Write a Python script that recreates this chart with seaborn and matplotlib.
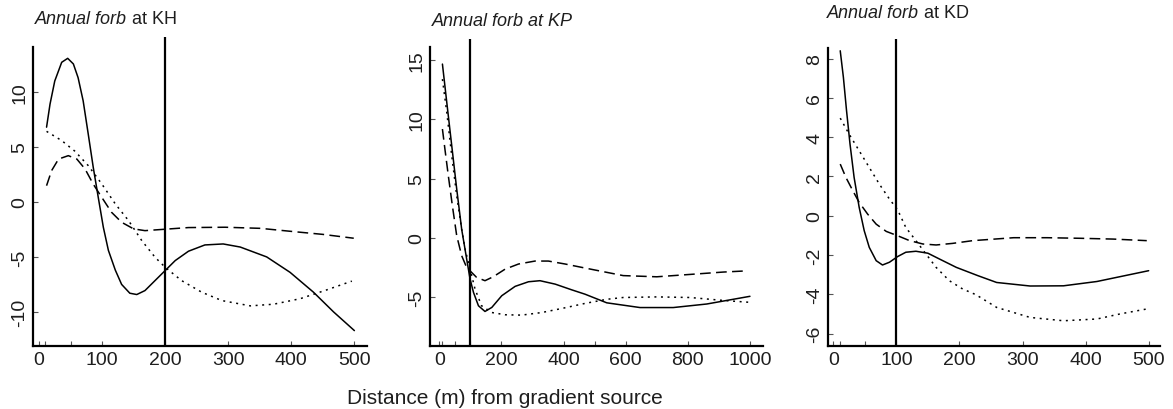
import pandas as pd
import matplotlib
matplotlib.use("Agg")
import matplotlib.pyplot as plt
import seaborn as sns

# ==========================================
# 1. Data
# ==========================================
# Annual forb at KH
KH_SOLID_X = [12, 17.5, 25, 36, 45.5, 54.5, 62, 70, 78, 86, 94, 102, 110, 121, 131, 144, 155, 168, 184, 200,
              216, 237, 263, 292, 319, 361, 398, 435, 467, 500]
KH_SOLID_Y = [6.8, 8.9, 11.0, 12.7, 13.06, 12.55, 11.3, 9.2, 6.2, 3.15, 0.4, -2.3, -4.4, -6.2, -7.5, -8.3, -8.42, -8.06, -7.15, -6.24,
              -5.33, -4.48, -3.91, -3.82, -4.1, -5.0, -6.4, -8.2, -10.0, -11.7]
KH_DASHED_X = [12, 20, 31, 46.5, 60, 73, 86, 99.5, 115, 131, 150, 168, 200, 237, 295, 351, 404, 450, 499]
KH_DASHED_Y = [1.48, 2.85, 3.9, 4.21, 3.9, 3.0, 1.62, 0.42, -0.94, -1.85, -2.45, -2.61, -2.48, -2.33, -2.3, -2.4, -2.7, -2.95, -3.3]
KH_DOTTED_X = [12, 36, 57, 78, 99.5, 121, 142, 163, 184, 200, 226, 258, 290, 335, 372, 414, 456, 496]
KH_DOTTED_Y = [6.42, 5.58, 4.61, 3.31, 1.64, -0.18, -1.7, -3.52, -5.03, -5.94, -7.15, -8.21, -8.97, -9.45, -9.3, -8.8, -8.0, -7.2]

# Annual forb at KP
KP_SOLID_X = [10, 24, 40, 56, 72, 88, 99, 110, 126, 147, 169, 201, 244, 287, 324, 373, 426, 469, 539, 646, 753, 861, 1000]
KP_SOLID_Y = [14.68, 11.44, 7.78, 4.12, 0.71, -1.79, -3.49, -4.62, -5.75, -6.23, -5.89, -4.9, -4.11, -3.72, -3.63, -3.92, -4.4, -4.77,
              -5.5, -5.9, -5.9, -5.6, -4.95]
KP_DASHED_X = [10, 18, 29, 42, 56, 72, 88, 104, 120, 147, 174, 212, 255, 308, 351, 405, 469, 592, 700, 807, 914, 989]
KP_DASHED_Y = [9.19, 7.5, 5.24, 2.71, 0.17, -1.52, -2.51, -2.93, -3.35, -3.63, -3.29, -2.65, -2.22, -1.97, -1.97, -2.22, -2.56,
               -3.2, -3.3, -3.1, -2.9, -2.8]
KP_DOTTED_X = [10, 24, 40, 56, 72, 83, 99, 115, 136, 169, 212, 265, 330, 394, 469, 540, 592, 700, 807, 914, 995]
KP_DOTTED_Y = [13.41, 10.6, 6.94, 3.56, 0.71, -0.96, -2.65, -4.34, -5.75, -6.32, -6.51, -6.54, -6.32, -5.98, -5.55, -5.2,
               -5.05, -5.0, -5.05, -5.3, -5.45]

# Annual forb at KD
KD_SOLID_X = [11, 16, 21, 26.5, 33, 41, 49, 57, 68, 78, 89, 102, 115, 131, 150, 168, 195, 229, 259, 312, 365, 418, 500]
KD_SOLID_Y = [8.4, 7.05, 5.35, 3.65, 1.95, 0.43, -0.76, -1.61, -2.29, -2.51, -2.37, -2.08, -1.86, -1.81, -1.91, -2.2, -2.63,
              -3.05, -3.4, -3.58, -3.57, -3.35, -2.8]
KD_DASHED_X = [11, 20, 31, 41, 54.5, 68, 84, 102, 121, 142, 163, 189, 221, 286, 339, 392, 444, 497]
KD_DASHED_Y = [2.63, 1.95, 1.27, 0.68, 0.08, -0.43, -0.8, -1.02, -1.27, -1.44, -1.49, -1.41, -1.27, -1.12, -1.12, -1.15, -1.19, -1.27]
KD_DOTTED_X = [11, 25, 41, 57, 73, 89, 102, 115, 131, 147, 163, 184, 205, 226, 259, 312, 365, 418, 455, 497]
KD_DOTTED_Y = [4.97, 4.16, 3.31, 2.46, 1.61, 0.85, 0.3, -0.6, -1.27, -1.95, -2.63, -3.31, -3.73, -4.02, -4.67, -5.18, -5.35,
               -5.26, -5.0, -4.75]

# gradient break (vertical line) and sampled distances (rug ticks)
KH_BREAK, KP_BREAK, KD_BREAK = 200, 100, 100
KH_XTICKS = [0, 100, 200, 300, 400, 500]
KP_XTICKS = [0, 200, 400, 600, 800, 1000]
KD_XTICKS = [0, 100, 200, 300, 400, 500]
KH_RUG = [10, 50]
KP_RUG = [10, 50, 100, 500]
KD_RUG = [10, 50]
KH_YTICKS = [-10, -5, 0, 5, 10]
KP_YTICKS = [-5, 0, 5, 10, 15]
KD_YTICKS = [-6, -4, -2, 0, 2, 4, 6, 8]

XLABEL = "Distance (m) from gradient source"

# ==========================================
# 2. Style
# ==========================================
sns.set_theme(style="white")
plt.rcParams["font.family"] = ["Liberation Sans", "DejaVu Sans"]
plt.rcParams["axes.unicode_minus"] = False
TEXT_COL = "#1e1e1e"
DASHES = {"solid": "", "dashed": (7, 3.5), "dotted": (1.3, 3)}


def make_frame(sx, sy, dx, dy, ox, oy):
    parts = []
    for name, xs, ys in [("solid", sx, sy), ("dashed", dx, dy), ("dotted", ox, oy)]:
        parts.append(pd.DataFrame({"dist": xs, "effect": ys, "curve": name}))
    return pd.concat(parts, ignore_index=True)


def draw_panel(ax, df, xlim, ylim, spine_top, brk, xticks, rug, yticks):
    sns.lineplot(data=df, x="dist", y="effect", style="curve",
                 style_order=["solid", "dashed", "dotted"], dashes=DASHES,
                 color="black", linewidth=1.1, estimator=None, sort=False,
                 legend=False, ax=ax)
    for line in ax.lines:
        line.set_solid_joinstyle("round")
    ax.axvline(brk, color="black", linewidth=1.6)

    ax.set_xlim(*xlim)
    ax.set_ylim(*ylim)
    ax.set_xticks(xticks)
    ax.set_xticks(rug, minor=True)
    ax.set_yticks(yticks)
    ax.set_xticklabels([str(t) for t in xticks])
    ax.set_yticklabels([str(t) for t in yticks], rotation=90, va="center")
    ax.set_xlabel("")
    ax.set_ylabel("")

    ax.tick_params(axis="both", which="both", direction="in", length=3.4,
                   width=0.8, color="#555555", labelsize=14, labelcolor=TEXT_COL,
                   pad=3.5, bottom=True, left=True)
    ax.tick_params(axis="y", which="minor", left=False)

    for side in ["top", "right"]:
        ax.spines[side].set_visible(False)
    for side in ["left", "bottom"]:
        ax.spines[side].set_color("black")
        ax.spines[side].set_linewidth(1.6)
    ax.spines["left"].set_bounds(ylim[0], spine_top)
    ax.set_facecolor("white")


def panel_title(fig, x, y, italic, rest):
    t = fig.text(x, y, italic, style="italic", fontsize=13, color=TEXT_COL,
                 ha="left", va="center")
    if rest:
        fig.add_artist(plt.Annotation(rest, xy=(1, 0), xycoords=t, ha="left",
                                      va="bottom", fontsize=13, color=TEXT_COL))


# ==========================================
# 3. Figure
# ==========================================
W, H = 1173, 410
fig = plt.figure(figsize=(W / 100, H / 100), dpi=100)
fig.patch.set_facecolor("white")

ax1 = fig.add_axes([33 / W, 1 - 347 / H, 334 / W, 309 / H])
ax2 = fig.add_axes([430 / W, 1 - 347 / H, 333 / W, 307 / H])
ax3 = fig.add_axes([828 / W, 1 - 346.7 / H, 332 / W, 306.7 / H])

draw_panel(ax1, make_frame(KH_SOLID_X, KH_SOLID_Y, KH_DASHED_X, KH_DASHED_Y, KH_DOTTED_X, KH_DOTTED_Y),
           (-9.5, 520), (-13.1, 15.0), 14.1, KH_BREAK, KH_XTICKS, KH_RUG, KH_YTICKS)
draw_panel(ax2, make_frame(KP_SOLID_X, KP_SOLID_Y, KP_DASHED_X, KP_DASHED_Y, KP_DOTTED_X, KP_DOTTED_Y),
           (-30, 1042), (-9.15, 16.8), 16.1, KP_BREAK, KP_XTICKS, KP_RUG, KP_YTICKS)
draw_panel(ax3, make_frame(KD_SOLID_X, KD_SOLID_Y, KD_DASHED_X, KD_DASHED_Y, KD_DOTTED_X, KD_DOTTED_Y),
           (-8.4, 518), (-6.62, 9.0), 8.52, KD_BREAK, KD_XTICKS, KD_RUG, KD_YTICKS)

panel_title(fig, 35 / W, 1 - 20 / H, "Annual forb", " at KH")
panel_title(fig, 432 / W, 1 - 22 / H, "Annual forb at KP", "")
panel_title(fig, 827 / W, 1 - 14 / H, "Annual forb", " at KD")

fig.text(505 / W, 1 - 399 / H, XLABEL, ha="center", va="center",
         fontsize=15, color=TEXT_COL)

fig.savefig("out.png", dpi=100, facecolor="white")
